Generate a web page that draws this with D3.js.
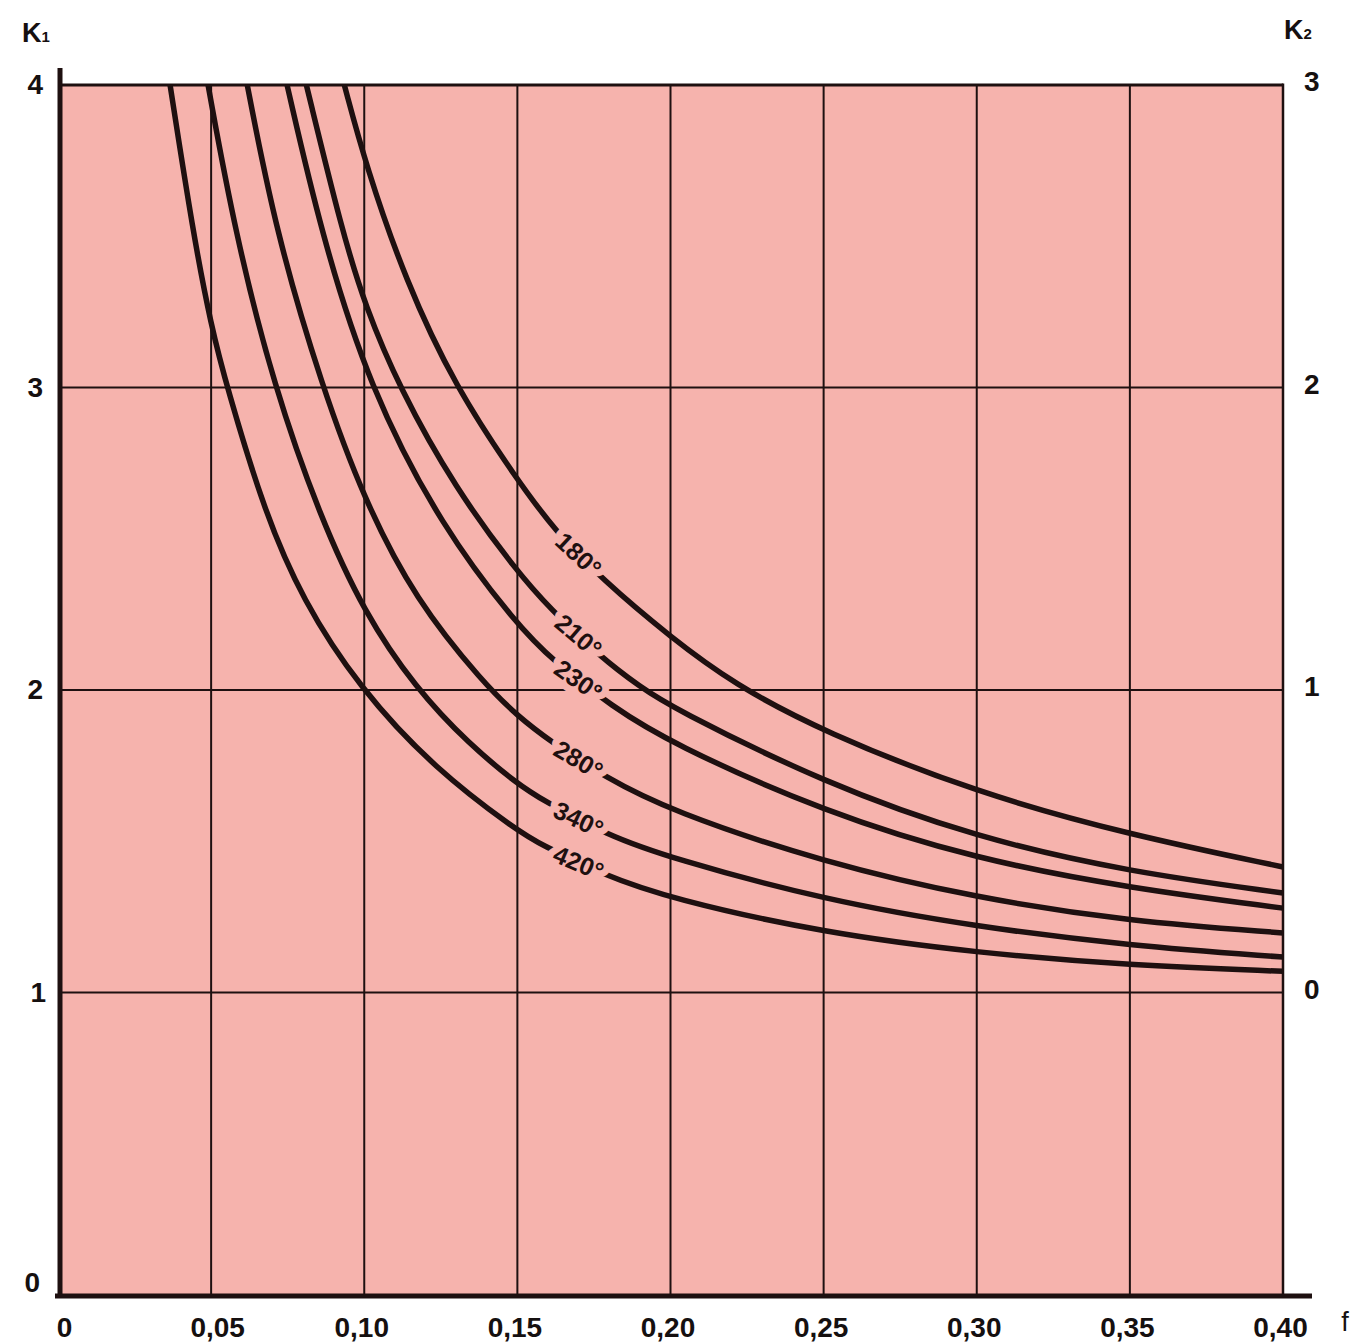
<!DOCTYPE html>
<html><head><meta charset="utf-8">
<script src="https://cdn.jsdelivr.net/npm/d3@7"></script>
<style>body{margin:0;background:#fff}svg{display:block}</style>
</head><body>
<svg id="c" width="1353" height="1342"></svg>
<script>
// ---------- data ----------
const fTicks = [0, 0.05, 0.10, 0.15, 0.20, 0.25, 0.30, 0.35, 0.40];
const fTickLabels = ["0", "0,05", "0,10", "0,15", "0,20", "0,25", "0,30", "0,35", "0,40"];
const k1Ticks = [0, 1, 2, 3, 4];
const k2Ticks = [0, 1, 2, 3];           // K2 = K1 - 1
const curveNames = ["180°", "210°", "230°", "280°", "340°", "420°"];
const labelF = 0.17;                    // where the curve labels sit

// [f, K1]
const c180 = [[0.0935,4.00],[0.1005,3.735],[0.1134,3.355],[0.1298,3.00],[0.15,2.694],[0.1621,2.529],[0.1778,2.364],[0.20,2.175],[0.2206,2.02],[0.25,1.861],[0.30,1.66],[0.35,1.521],[0.40,1.415]];
const c210 = [[0.0811,4.00],[0.0928,3.515],[0.1003,3.27],[0.1114,3.00],[0.1298,2.665],[0.15,2.39],[0.1605,2.271],[0.1771,2.109],[0.1902,2.01],[0.20,1.944],[0.25,1.693],[0.30,1.511],[0.35,1.398],[0.40,1.329]];
const c230 = [[0.0748,4.00],[0.0859,3.511],[0.1016,3.00],[0.1255,2.535],[0.15,2.215],[0.1614,2.099],[0.1811,1.944],[0.20,1.825],[0.25,1.597],[0.30,1.44],[0.35,1.345],[0.40,1.279]];
const c280 = [[0.0618,4.00],[0.0712,3.511],[0.0863,3.00],[0.10,2.628],[0.1167,2.298],[0.1392,2.02],[0.15,1.915],[0.1605,1.832],[0.1781,1.715],[0.20,1.60],[0.25,1.43],[0.30,1.312],[0.35,1.235],[0.40,1.197]];
const c340 = [[0.049,4.00],[0.0578,3.511],[0.0706,3.00],[0.0856,2.572],[0.10,2.255],[0.1167,2.007],[0.1343,1.82],[0.15,1.69],[0.1582,1.636],[0.1794,1.52],[0.20,1.445],[0.25,1.306],[0.30,1.217],[0.35,1.155],[0.40,1.117]];
const c420 = [[0.0366,4.00],[0.0441,3.511],[0.05,3.203],[0.0552,3.00],[0.0673,2.592],[0.0798,2.298],[0.0984,2.007],[0.1232,1.738],[0.15,1.535],[0.1575,1.49],[0.1778,1.39],[0.20,1.31],[0.25,1.197],[0.30,1.131],[0.35,1.09],[0.40,1.07]];
const curves = [c180, c210, c230, c280, c340, c420];

// ---------- drawing ----------
const PINK = "#f6b3ad", INK = "#1e1010", FONT = "'Liberation Sans', Arial, Helvetica, sans-serif";
const x = d3.scaleLinear().domain([0, 0.40]).range([58, 1283]);
const y = d3.scaleLinear().domain([0, 4]).range([1295, 85]);
const y2 = d3.scaleLinear().domain([-1, 3]).range([1295, 85]);
const svg = d3.select("#c");

svg.append("rect").attr("x", x(0)).attr("y", y(4))
  .attr("width", x(0.40) - x(0)).attr("height", y(0) - y(4)).attr("fill", PINK);

// grid
svg.append("g").selectAll("line").data(fTicks.slice(1)).join("line")
  .attr("x1", d => x(d)).attr("x2", d => x(d)).attr("y1", y(4)).attr("y2", y(0))
  .attr("stroke", INK).attr("stroke-width", 2);
svg.append("g").selectAll("line").data(k1Ticks.filter(k => k > 0 && k < 4)).join("line")
  .attr("x1", x(0)).attr("x2", x(0.40)).attr("y1", d => y(d)).attr("y2", d => y(d))
  .attr("stroke", INK).attr("stroke-width", 2);
svg.append("line").attr("x1", x(0)).attr("x2", x(0.40)).attr("y1", y(4)).attr("y2", y(4))
  .attr("stroke", INK).attr("stroke-width", 3);

// curves
const lineGen = d3.line().x(d => x(d[0])).y(d => y(d[1])).curve(d3.curveBasis);
const paths = svg.append("g").selectAll("path").data(curves).join("path")
  .attr("d", lineGen).attr("fill", "none").attr("stroke", INK)
  .attr("stroke-width", 5.5).attr("stroke-linecap", "butt");

// curve labels
const lg = svg.append("g");
paths.each(function(d, i) {
  const p = this, L = p.getTotalLength(), tx = x(labelF);
  let lo = 0, hi = L;
  for (let k = 0; k < 40; k++) { const m = (lo + hi) / 2; if (p.getPointAtLength(m).x < tx) lo = m; else hi = m; }
  const pt = p.getPointAtLength(lo);
  const a = p.getPointAtLength(Math.max(0, lo - 6)), b = p.getPointAtLength(Math.min(L, lo + 6));
  const ang = Math.atan2(b.y - a.y, b.x - a.x) * 180 / Math.PI * 0.93;
  lg.append("text").attr("transform", `translate(${pt.x},${pt.y}) rotate(${ang})`)
    .attr("text-anchor", "middle").attr("dy", "0.36em")
    .attr("font-family", FONT).attr("font-size", 25).attr("font-weight", "bold").attr("fill", INK)
    .attr("stroke", PINK).attr("stroke-width", 14).attr("paint-order", "stroke")
    .attr("stroke-linejoin", "round")
    .text(curveNames[i]);
});

// right border
svg.append("line").attr("x1", x(0.40)).attr("x2", x(0.40)).attr("y1", y(4) - 1.5).attr("y2", y(0))
  .attr("stroke", INK).attr("stroke-width", 2.5);
// heavy axes
svg.append("line").attr("x1", x(0) + 2).attr("x2", x(0) + 2).attr("y1", 68).attr("y2", y(0) + 3)
  .attr("stroke", INK).attr("stroke-width", 5);
svg.append("line").attr("x1", x(0) - 3).attr("x2", x(0.40) + 29).attr("y1", y(0) + 1).attr("y2", y(0) + 1)
  .attr("stroke", INK).attr("stroke-width", 5);

// axes (labels only)
function styleAxis(g) {
  g.select(".domain").remove();
  g.selectAll(".tick line").remove();
  g.selectAll("text").attr("font-family", FONT).attr("font-size", 28)
    .attr("font-weight", "bold").attr("fill", "#151010");
}
const gb = svg.append("g").attr("transform", `translate(-3,${y(0)})`)
  .call(d3.axisBottom(x).tickValues(fTicks).tickFormat((d, i) => fTickLabels[i]).tickSize(0).tickPadding(22))
  .call(styleAxis);
gb.selectAll(".tick").filter(d => d === 0 || d === 0.05).select("text").attr("dx", "9");
const gl = svg.append("g").attr("transform", `translate(${x(0)},0)`)
  .call(d3.axisLeft(y).tickValues(k1Ticks).tickFormat(d3.format("d")).tickSize(0).tickPadding(15))
  .call(styleAxis);
gl.selectAll(".tick").filter(d => d === 0).select("text").attr("dy", "-0.12em").attr("dx", "-3");
gl.selectAll(".tick").filter(d => d === 1).select("text").attr("dx", "3");
svg.append("g").attr("transform", `translate(${x(0.40)},-3)`)
  .call(d3.axisRight(y2).tickValues(k2Ticks).tickFormat(d3.format("d")).tickSize(0).tickPadding(21))
  .call(styleAxis);

// axis titles
const t1 = svg.append("text").attr("x", 22).attr("y", 42).attr("font-family", FONT)
  .attr("font-size", 27).attr("font-weight", "bold").attr("fill", "#151010");
t1.append("tspan").text("K");
t1.append("tspan").attr("font-size", 15).text("1");
const t2 = svg.append("text").attr("x", 1284).attr("y", 39).attr("font-family", FONT)
  .attr("font-size", 27).attr("font-weight", "bold").attr("fill", "#151010");
t2.append("tspan").text("K");
t2.append("tspan").attr("font-size", 15).text("2");
svg.append("text").attr("x", 1345).attr("y", 1331).attr("text-anchor", "middle")
  .attr("font-family", FONT).attr("font-size", 27).attr("fill", "#151010").text("f");
</script>
</body></html>
